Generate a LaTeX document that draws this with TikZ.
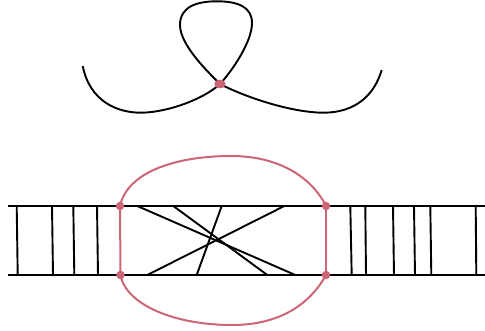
\documentclass[tikz,border=0pt]{standalone}
\usetikzlibrary{shapes.geometric}
\definecolor{dotred}{HTML}{CC6677}
\tikzset{
  reddot/.style={circle,fill=dotred,draw=none,inner sep=0pt,minimum size=8.5pt},
  bigdot/.style={ellipse,fill=dotred,draw=none,inner sep=0pt,minimum width=11.5pt,minimum height=8.5pt},
  blackline/.style={line width=1.9pt,black},
  redline/.style={line width=2pt,dotred}
}
\begin{document}
\begin{tikzpicture}[x=1pt,y=-1pt]
\useasboundingbox (0,0) rectangle (485,330);
\coordinate (LS) at (82.7,66);
\coordinate (RS) at (381.7,70);
\coordinate (RA) at (8,206);
\coordinate (RB) at (485,206);
\coordinate (SA) at (8,275);
\coordinate (SB) at (485,275);
% top figure
\draw[blackline] (LS) .. controls (90,102) and (118,113) .. (142,112.7)
   .. controls (170,112) and (205,98) .. (220,84)
   .. controls (208,72) and (180,45) .. (180,25)
   .. controls (180,6) and (198,1.3) .. (217,1.3)
   .. controls (238,1.3) and (252,7) .. (252,23)
   .. controls (252,42) and (232,71) .. (220,84)
   .. controls (245,97) and (292,113) .. (325,112.7)
   .. controls (355,112) and (374,96) .. (RS);
\node[bigdot] (C) at (220,84) {};
% rails
\draw[blackline] (RA) -- (RB);
\draw[blackline] (SA) -- (SB);
% rungs
\foreach \n/\a/\b in {a/16.7/17.7,b/52/53,c/73.3/74.3,d/97/98,e/350.3/351.7,f/365.3/366,g/393/394,h/414/415,i/430.3/431.3,j/475.7/476.3}{
  \coordinate (t\n) at (\a,206);
  \coordinate (u\n) at (\b,275);
  \draw[blackline] (t\n) -- (u\n);
}
% crossing lines
\coordinate (m1) at (137.3,206); \coordinate (n1) at (295.3,275);
\coordinate (m2) at (173.3,206); \coordinate (n2) at (267.3,275);
\coordinate (m3) at (221.7,206); \coordinate (n3) at (196.7,275);
\coordinate (m4) at (284.3,206); \coordinate (n4) at (147.3,275);
\foreach \i in {1,2,3,4}{\draw[blackline] (m\i) -- (n\i);}
% red
\node[reddot] (TL) at (120,206) {};
\node[reddot] (BL) at (120.5,275) {};
\node[reddot] (TR) at (326,206) {};
\node[reddot] (BR) at (326,275) {};
\draw[redline] (TL.center) .. controls (128,170) and (180,156) .. (231,156)
   .. controls (280,156) and (312,178) .. (TR.center);
\draw[redline] (BL.center) .. controls (126,305) and (175,325) .. (232,325)
   .. controls (280,325) and (310,304) .. (BR.center);
\draw[redline] (TL.center) -- (BL.center);
\draw[redline] (TR.center) -- (BR.center);
\end{tikzpicture}
\end{document}
